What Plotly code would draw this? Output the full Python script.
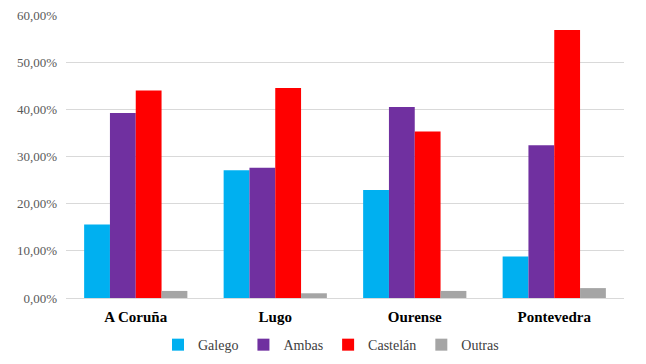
import plotly.graph_objects as go

categories = ["A Coruña", "Lugo", "Ourense", "Pontevedra"]
galego = [15.6, 27.1, 22.9, 8.8]
ambas = [39.2, 27.6, 40.5, 32.4]
castelan = [44.0, 44.5, 35.3, 56.8]
outras = [1.5, 1.0, 1.5, 2.1]
series_names = ["Galego", "Ambas", "Castelán", "Outras"]
colors = ["#00B0F0", "#7030A0", "#FF0000", "#A5A5A5"]
tick_vals = [0, 10, 20, 30, 40, 50, 60]
tick_text = ["0,00%", "10,00%", "20,00%", "30,00%", "40,00%", "50,00%", "60,00%"]

fig = go.Figure()
for name, vals, col in zip(series_names, [galego, ambas, castelan, outras], colors):
    fig.add_trace(go.Bar(x=categories, y=vals, name=name, marker_color=col,
                         marker_line_width=0))

serif = "Liberation Serif"
fig.update_layout(
    width=646, height=364,
    margin=dict(l=58, r=30, t=7, b=74, autoexpand=False),
    paper_bgcolor="white", plot_bgcolor="white",
    barmode="group", bargap=0.26, bargroupgap=0,
    font=dict(family=serif, color="#595959", size=12),
    legend=dict(orientation="h", x=0.5, xanchor="center", xref="container",
                y=0.074, yanchor="middle", yref="container",
                font=dict(family=serif, size=14, color="#404040"),
                itemwidth=30, traceorder="normal", tracegroupgap=0),
    showlegend=True,
)
fig.update_yaxes(range=[0, 60], tickvals=tick_vals, ticktext=tick_text,
                 showgrid=True, gridcolor="#D9D9D9", gridwidth=1,
                 zeroline=False, showline=False, ticks="", automargin=False,
                 ticklabelstandoff=8, ticklabeloverflow="allow",
                 tickfont=dict(family=serif, size=13, color="#595959"))
fig.update_xaxes(showline=True, linecolor="#D9D9D9", linewidth=1, ticks="",
                 automargin=False,
                 tickfont=dict(family=serif, size=15, color="#000000"),
                 ticklabelstandoff=5,
                 tickvals=categories,
                 ticktext=["<b>%s</b>" % c for c in categories])
fig.write_html("out.html")
